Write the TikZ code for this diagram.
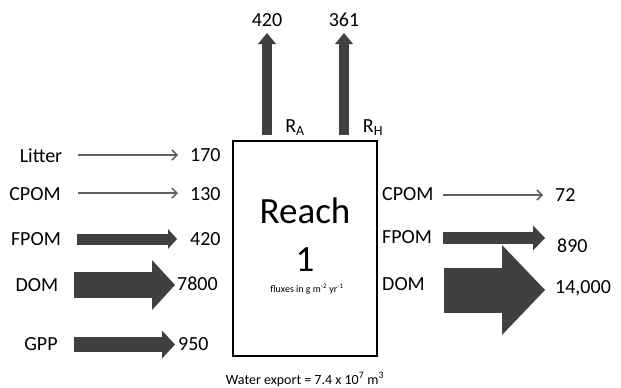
\documentclass[tikz,border=0pt]{standalone}
\usepackage{fontspec}
\setmainfont{Carlito}
\usetikzlibrary{arrows.meta}
\definecolor{FlowClr}{rgb}{0.25,0.25,0.25}
\definecolor{LineClr}{rgb}{0.38,0.38,0.38}

\begin{document}
\begin{tikzpicture}[x=1pt,y=-1pt,
  lbl/.style={font=\fontsize{20}{24}\selectfont,inner sep=0pt},
  thinflow/.style={draw=LineClr,line width=1.5pt,-{Straight Barb[length=5pt,width=10pt]}},
  flow/.style n args={3}{draw=FlowClr,line width=#1,-{Triangle[width=#2,length=#3,line width=0pt]}}]
\useasboundingbox (0,0) rectangle (621,388);

% The reach itself.
\node[draw,line width=2.2pt,minimum width=144pt,minimum height=215pt,inner sep=0pt] (reach) at (305,248.5) {};
\node[font=\fontsize{37}{40}\selectfont,inner sep=0pt,anchor=base] (rname) at (305,223) {Reach};
\node[font=\fontsize{37}{40}\selectfont,inner sep=0pt,anchor=base] (rnum) at (305,271) {1};
\node[font=\fontsize{10}{12}\selectfont,inner sep=0pt,anchor=base] (units) at (307,292) {fluxes in g m\textsuperscript{-2} yr\textsuperscript{-1}};
\node[font=\fontsize{14}{16}\selectfont,inner sep=0pt,anchor=base] (water) at (305,384) {Water export = 7.4 x 10\textsuperscript{7} m\textsuperscript{3}};

% Respiration out of the top.
\coordinate (raS) at (267,135); \coordinate (raE) at (267,33);
\coordinate (rhS) at (344,135); \coordinate (rhE) at (344,33);
\draw[flow={10pt}{18pt}{11pt}] (raS) -- (raE);
\draw[flow={10pt}{18pt}{11pt}] (rhS) -- (rhE);
\node[lbl,anchor=base] (vRA) at (267,26) {420};
\node[lbl,anchor=base] (vRH) at (344,26) {361};
\node[lbl,anchor=base] (lRA) at (295,132) {R\textsubscript{A}};
\node[lbl,anchor=base] (lRH) at (373,132) {R\textsubscript{H}};

% Inputs on the left.
\node[lbl,anchor=base] (inLit) at (41,162) {Litter};
\node[lbl,anchor=base] (inCP) at (35,200) {CPOM};
\node[lbl,anchor=base] (inFP) at (36,245) {FPOM};
\node[lbl,anchor=base] (inDOM) at (37,291) {DOM};
\node[lbl,anchor=base] (inGPP) at (41,350) {GPP};

\coordinate (litS) at (78,155); \coordinate (litE) at (178,155);
\coordinate (icpS) at (78,193); \coordinate (icpE) at (178,193);
\coordinate (ifpS) at (77,239); \coordinate (ifpE) at (177,239);
\coordinate (idomS) at (74,285); \coordinate (idomE) at (175,285);
\coordinate (gppS) at (74,344.5); \coordinate (gppE) at (175,344.5);

\draw[thinflow] (litS) -- (litE);
\draw[thinflow] (icpS) -- (icpE);
\draw[flow={11pt}{20pt}{9pt}] (ifpS) -- (ifpE);
\draw[flow={26pt}{50pt}{23pt}] (idomS) -- (idomE);
\draw[flow={15pt}{28pt}{13pt}] (gppS) -- (gppE);

\node[lbl,anchor=base west] (vLit) at (190,161) {170};
\node[lbl,anchor=base west] (vICP) at (190,200) {130};
\node[lbl,anchor=base west] (vIFP) at (190,245) {420};
\node[lbl,anchor=base west] (vIDOM) at (177,290) {7800};
\node[lbl,anchor=base west] (vGPP) at (178,350) {950};

% Outputs on the right.
\node[lbl,anchor=base west] (outCP) at (382,200) {CPOM};
\node[lbl,anchor=base west] (outFP) at (382,243) {FPOM};
\node[lbl,anchor=base west] (outDOM) at (382,290) {DOM};

\coordinate (ocpS) at (443,195); \coordinate (ocpE) at (543,195);
\coordinate (ofpS) at (443,238); \coordinate (ofpE) at (545,238);
\coordinate (odomS) at (444,290); \coordinate (odomE) at (545,290);

\draw[thinflow] (ocpS) -- (ocpE);
\draw[flow={12pt}{25pt}{12pt}] (ofpS) -- (ofpE);
\draw[flow={45pt}{90pt}{43pt}] (odomS) -- (odomE);

\node[lbl,anchor=base west] (vOCP) at (555,201) {72};
\node[lbl,anchor=base west] (vOFP) at (557,252) {890};
\node[lbl,anchor=base west] (vODOM) at (555,293) {14,000};

\end{tikzpicture}
\end{document}
